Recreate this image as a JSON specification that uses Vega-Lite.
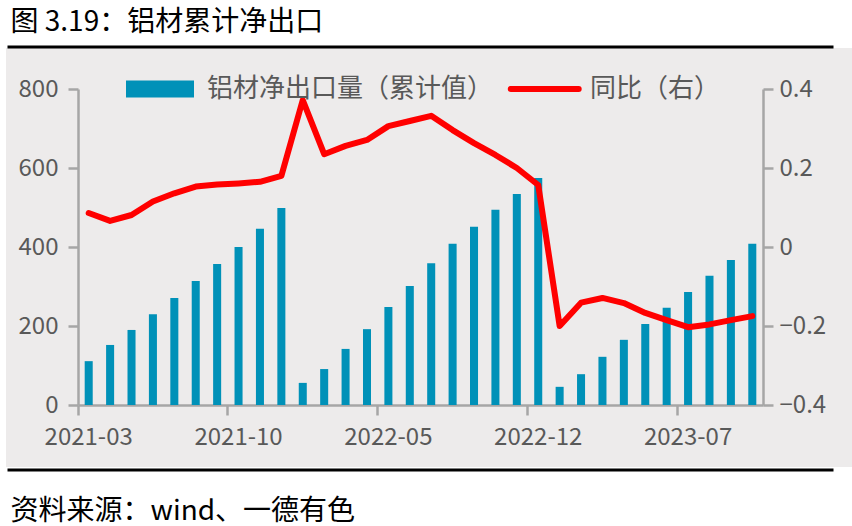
{
  "$schema": "https://vega.github.io/schema/vega-lite/v6.json",
  "width": 846,
  "height": 419,
  "autosize": {"type": "none"},
  "padding": {"left": 6, "top": 48, "right": 0, "bottom": 59},
  "background": "#FFFFFF",
  "view": {"fill": "#EDEBEB", "stroke": null},
  "config": {"font": "Noto Sans CJK SC", "axis": {"grid": false}},
  "data": {
    "values": [
      {"month": "2021-03", "export": 111, "yoy": 0.086},
      {"month": "2021-04", "export": 152, "yoy": 0.066},
      {"month": "2021-05", "export": 190, "yoy": 0.081},
      {"month": "2021-06", "export": 230, "yoy": 0.115},
      {"month": "2021-07", "export": 271, "yoy": 0.136},
      {"month": "2021-08", "export": 314, "yoy": 0.153},
      {"month": "2021-09", "export": 357, "yoy": 0.158},
      {"month": "2021-10", "export": 400, "yoy": 0.161},
      {"month": "2021-11", "export": 446, "yoy": 0.165},
      {"month": "2021-12", "export": 499, "yoy": 0.180},
      {"month": "2022-01", "export": 56, "yoy": 0.372},
      {"month": "2022-02", "export": 91, "yoy": 0.235},
      {"month": "2022-03", "export": 142, "yoy": 0.256},
      {"month": "2022-04", "export": 192, "yoy": 0.271},
      {"month": "2022-05", "export": 248, "yoy": 0.306},
      {"month": "2022-06", "export": 301, "yoy": 0.319},
      {"month": "2022-07", "export": 359, "yoy": 0.332},
      {"month": "2022-08", "export": 408, "yoy": 0.296},
      {"month": "2022-09", "export": 451, "yoy": 0.263},
      {"month": "2022-10", "export": 494, "yoy": 0.233},
      {"month": "2022-11", "export": 534, "yoy": 0.200},
      {"month": "2022-12", "export": 575, "yoy": 0.157},
      {"month": "2023-01", "export": 46, "yoy": -0.200},
      {"month": "2023-02", "export": 78, "yoy": -0.141},
      {"month": "2023-03", "export": 122, "yoy": -0.129},
      {"month": "2023-04", "export": 165, "yoy": -0.142},
      {"month": "2023-05", "export": 205, "yoy": -0.167},
      {"month": "2023-06", "export": 246, "yoy": -0.185},
      {"month": "2023-07", "export": 286, "yoy": -0.203},
      {"month": "2023-08", "export": 327, "yoy": -0.196},
      {"month": "2023-09", "export": 367, "yoy": -0.185},
      {"month": "2023-10", "export": 408, "yoy": -0.175}
    ]
  },
  "layer": [
    {
      "mark": {"type": "bar", "width": {"band": 0.375}},
      "encoding": {
        "x": {
          "field": "month", "type": "ordinal",
          "scale": {"type": "band", "range": [72, 757], "paddingInner": 0, "paddingOuter": 0},
          "axis": {
            "orient": "bottom", "offset": -62,
            "values": ["2021-03", "2021-10", "2022-05", "2022-12", "2023-07"],
            "bandPosition": 0, "labelAngle": 0,
            "domainColor": "#A6A6A6", "domainWidth": 2.5,
            "tickColor": "#A6A6A6", "tickWidth": 2.5, "tickSize": 10,
            "labelColor": "#595959", "labelFontSize": 24, "labelPadding": 10,
            "title": null
          }
        },
        "y": {
          "field": "export", "type": "quantitative",
          "scale": {"domain": [0, 800], "range": [357, 41], "nice": false},
          "axis": {
            "orient": "left", "offset": -72,
            "values": [0, 200, 400, 600, 800],
            "domainColor": "#A6A6A6", "domainWidth": 2.5,
            "tickColor": "#A6A6A6", "tickWidth": 2.5, "tickSize": 10,
            "labelColor": "#595959", "labelFontSize": 24, "labelPadding": 10,
            "title": null
          }
        },
        "color": {
          "datum": "铝材净出口量（累计值）",
          "scale": {"domain": ["铝材净出口量（累计值）", "同比（右）"], "range": ["#0091B8", "#FF0000"]},
          "legend": {
            "orient": "none", "legendX": 124, "legendY": 28,
            "direction": "horizontal", "title": null, "padding": 0,
            "labelFontSize": 26, "labelColor": "#595959", "labelLimit": 500,
            "labelOffset": 51, "columnPadding": 4,
            "symbolSize": 1156, "symbolStrokeWidth": 0,
            "encode": {
              "symbols": {
                "update": {
                  "shape": {"signal": "datum.value == '同比（右）' ? 'M-0.9,0H3.1' : 'M-1,-0.5H3V0.5H-1Z'"},
                  "fill": {"signal": "datum.value == '同比（右）' ? 'transparent' : '#0091B8'"},
                  "stroke": {"signal": "datum.value == '同比（右）' ? '#FF0000' : 'transparent'"},
                  "strokeWidth": {"signal": "datum.value == '同比（右）' ? 6 : 0"},
                  "strokeCap": {"value": "round"},
                  "opacity": {"value": 1},
                  "fillOpacity": {"value": 1},
                  "strokeOpacity": {"value": 1}
                }
              }
            }
          }
        }
      }
    },
    {
      "mark": {"type": "line", "strokeWidth": 6, "strokeJoin": "round", "strokeCap": "round"},
      "encoding": {
        "x": {
          "field": "month", "type": "ordinal",
          "scale": {"type": "band", "range": [72, 757], "paddingInner": 0, "paddingOuter": 0},
          "axis": null
        },
        "y": {
          "field": "yoy", "type": "quantitative",
          "scale": {"domain": [-0.4, 0.4], "range": [357, 41], "nice": false, "zero": false},
          "axis": {
            "orient": "right", "offset": -89,
            "values": [-0.4, -0.2, 0, 0.2, 0.4], "format": ".1~f",
            "domainColor": "#A6A6A6", "domainWidth": 2.5,
            "tickColor": "#A6A6A6", "tickWidth": 2.5, "tickSize": 10,
            "labelColor": "#595959", "labelFontSize": 24, "labelPadding": 6,
            "title": null
          }
        },
        "color": {"datum": "同比（右）"}
      }
    },
    {
      "mark": {"type": "point", "opacity": 0},
      "encoding": {
        "x": {
          "field": "month", "type": "ordinal",
          "scale": {"type": "point", "range": [1, 827]},
          "axis": {
            "orient": "top", "offset": 1.5,
            "domainColor": "#000000", "domainWidth": 3,
            "ticks": false, "labels": false,
            "title": "图 3.19：铝材累计净出口",
            "titleX": 4, "titleY": -16.5, "titleAlign": "left", "titleBaseline": "alphabetic",
            "titleFontSize": 28, "titleFontWeight": "normal", "titleColor": "#000000"
          }
        }
      }
    },
    {
      "mark": {"type": "point", "opacity": 0},
      "encoding": {
        "x": {
          "field": "month", "type": "ordinal",
          "scale": {"type": "point", "range": [1, 827]},
          "axis": {
            "orient": "bottom", "offset": 2.5,
            "domainColor": "#000000", "domainWidth": 3,
            "ticks": false, "labels": false,
            "title": "资料来源：wind、一德有色",
            "titleX": 4, "titleY": 49.5, "titleAlign": "left", "titleBaseline": "alphabetic",
            "titleFontSize": 28, "titleFontWeight": "normal", "titleColor": "#000000"
          }
        }
      }
    }
  ],
  "resolve": {
    "scale": {"x": "independent", "y": "independent"},
    "axis": {"x": "independent", "y": "independent"}
  }
}
